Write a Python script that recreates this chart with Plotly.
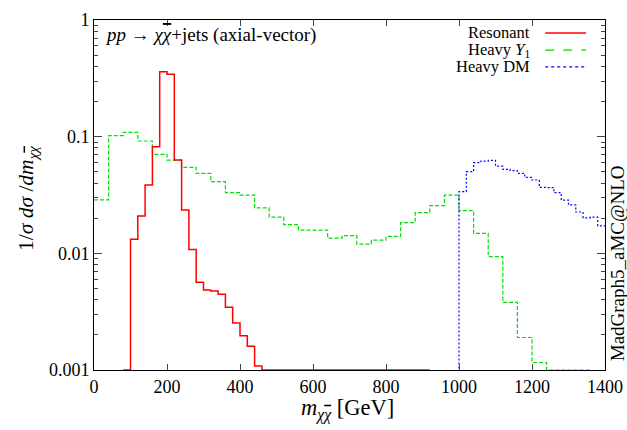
import plotly.graph_objects as go

# ---- data ----
red_lo = [80 + 20 * i for i in range(42)]          # 20 GeV bins, 80..900
red_val = [0.001, 0.0132, 0.0209, 0.0385, 0.082, 0.360, 0.342, 0.063, 0.0235, 0.0108,
           0.00565, 0.00485, 0.00475, 0.00446, 0.00345, 0.00253, 0.00197, 0.0016, 0.00108] + [0.001] * 23

green_lo = [40 * i for i in range(35)]             # 40 GeV bins, 0..1360
green_val = [0.0287, 0.102, 0.109, 0.0918, 0.0706, 0.063, 0.0546, 0.0485, 0.0411, 0.0331,
             0.0316, 0.0245, 0.0204, 0.0176, 0.0158, 0.0158, 0.0135, 0.0142, 0.0120, 0.0130,
             0.0140, 0.0183, 0.0223, 0.0256, 0.0316, 0.0232, 0.0148, 0.00936, 0.0038, 0.0019,
             0.00116, 0.001, 0.001, 0.001, 0.0009]

blue_lo = [980 + 20 * i for i in range(21)]         # 20 GeV bins, 980..1400
blue_val = [0.0005, 0.0338, 0.0501, 0.0598, 0.0618, 0.0627, 0.0560, 0.0525, 0.0511, 0.0485,
            0.0448, 0.0425, 0.0368, 0.0366, 0.0331, 0.0286, 0.0260, 0.0226, 0.0201, 0.0204, 0.0172]

x_ticks = [0, 200, 400, 600, 800, 1000, 1200, 1400]
y_ticks = [0.001, 0.01, 0.1, 1]
y_ticktext = ["0.001", "0.01", "0.1", "1"]
y_minor = [m * 10 ** k for k in (-3, -2, -1) for m in range(2, 10)]

def steps(lo, vals, width):
    xs = list(lo) + [lo[-1] + width]
    ys = list(vals) + [vals[-1]]
    return xs, ys

FONT = "Liberation Serif"
CHIBAR = "<i>χ<span style='text-decoration:overline'>χ</span></i>"

fig = go.Figure()
rx, ry = steps(red_lo, red_val, 20)
gx, gy = steps(green_lo, green_val, 40)
bx, by = steps(blue_lo, blue_val, 20)
fig.add_trace(go.Scatter(x=gx, y=gy, mode="lines", line=dict(shape="hv", color="#00e000", width=1.2, dash="4px,2px"),
                         showlegend=False, hoverinfo="skip"))
fig.add_trace(go.Scatter(x=bx, y=by, mode="lines", line=dict(shape="hv", color="#0000ff", width=1.2, dash="2px,2px"),
                         showlegend=False, hoverinfo="skip"))
fig.add_trace(go.Scatter(x=rx, y=ry, mode="lines", line=dict(shape="hv", color="#ff0000", width=1.5),
                         showlegend=False, hoverinfo="skip"))

fig.update_layout(
    width=627, height=430,
    margin=dict(l=94, r=22, t=20, b=60, autoexpand=False),
    paper_bgcolor="white", plot_bgcolor="white",
    font=dict(family=FONT, size=18, color="black"),
    xaxis=dict(range=[0, 1400], tickvals=x_ticks, ticks="inside", ticklen=6, tickwidth=1,
               showline=True, linecolor="black", linewidth=1, mirror="ticks", automargin=False,
               showgrid=False, zeroline=False, tickfont=dict(family=FONT, size=18)),
    yaxis=dict(type="log", range=[-3, 0], tickvals=y_ticks, ticktext=y_ticktext,
               ticks="inside", ticklen=8, tickwidth=1, automargin=False,
               minor=dict(tickvals=y_minor, ticks="inside", ticklen=4, tickwidth=1, showgrid=False),
               showline=True, linecolor="black", linewidth=1, mirror="ticks",
               showgrid=False, zeroline=False, tickfont=dict(family=FONT, size=18)),
)

ann = []
ann.append(dict(text="<i>m</i><sub>" + CHIBAR + "</sub> [GeV]", x=0.497, y=-0.114, xref="paper", yref="paper",
                showarrow=False, font=dict(family=FONT, size=22.5), xanchor="center", yanchor="middle"))
ann.append(dict(text="1/<i>σ</i> <i>dσ</i> /<i>dm</i><sub>" + CHIBAR + "</sub>", x=-0.13, y=0.49, xref="paper", yref="paper",
                showarrow=False, textangle=-90, font=dict(family=FONT, size=21.5), xanchor="center", yanchor="middle"))
ann.append(dict(text="<i>pp</i> → " + CHIBAR + "+jets (axial-vector)", x=0.018, y=0.957, xref="paper", yref="paper",
                showarrow=False, font=dict(family=FONT, size=19), xanchor="left", yanchor="middle"))
ann.append(dict(text="MadGraph5_aMC@NLO", x=1.024, y=0.02, xref="paper", yref="paper",
                showarrow=False, textangle=-90, font=dict(family=FONT, size=19), xanchor="center", yanchor="bottom"))

legend_items = [("Resonant", "#ff0000", "solid", 1.5),
                ("Heavy <i>Y</i><sub>1</sub>", "#00e000", "dash", 1.2),
                ("Heavy DM", "#0000ff", "dot", 1.2)]
ys_leg = [0.963, 0.914, 0.866]
shapes = []
for (lab, col, dash, w), yy in zip(legend_items, ys_leg):
    ann.append(dict(text=lab, x=0.857, y=yy, xref="paper", yref="paper", showarrow=False,
                    font=dict(family=FONT, size=16.5), xanchor="right", yanchor="middle"))
    shapes.append(dict(type="line", xref="paper", yref="paper", x0=0.883, x1=0.963, y0=yy, y1=yy,
                       line=dict(color=col, width=w, dash=dash)))
fig.update_layout(annotations=ann, shapes=shapes)

fig.write_html("out.html")
